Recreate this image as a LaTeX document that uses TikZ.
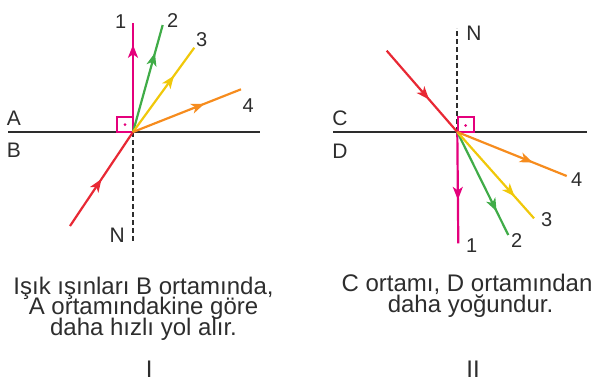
\documentclass[tikz,border=0pt]{standalone}
\usepackage{fontspec}
\setmainfont{Liberation Sans}
\usetikzlibrary{arrows.meta,decorations.markings}
\definecolor{cmag}{RGB}{228,0,124}
\definecolor{cgreen}{RGB}{64,172,72}
\definecolor{cyel}{RGB}{240,200,10}
\definecolor{corange}{RGB}{246,140,30}
\definecolor{cred}{RGB}{232,40,52}
\definecolor{cink}{RGB}{45,45,45}
\tikzset{
  ray/.style 2 args={draw=#1, line width=2.2pt, postaction={decorate},
    decoration={markings, mark=at position #2 with {\arrow[#1]{Stealth[length=13pt,width=10pt,inset=3.5pt]}}}},
  surface/.style={draw=cink, line width=2.2pt},
  normalline/.style={draw=cink, line width=2pt, dash pattern=on 5pt off 3pt},
  rightsq/.style={draw=cmag, line width=1.8pt},
  lbl/.style={text=cink, inner sep=0pt, font=\fontsize{20}{20}\selectfont},
  lett/.style={text=cink, inner sep=0pt, font=\fontsize{21}{21}\selectfont},
  txt/.style={text=cink, inner sep=0pt, anchor=base, font=\fontsize{24}{21}\selectfont}
}
\begin{document}
\begin{tikzpicture}[x=1pt,y=-1pt]
\useasboundingbox (0,0) rectangle (600,381);
% ---------- Panel I ----------
\coordinate (O1) at (133,132);
\coordinate (L1) at (8,132);
\coordinate (R1) at (260,132);
\coordinate (N1e) at (133,243);
\coordinate (i1) at (70,226);
\coordinate (a1) at (133,23);
\coordinate (a2) at (162.7,25);
\coordinate (a3) at (194.3,47.7);
\coordinate (a4) at (241,89.3);
\draw[surface] (L1) -- (R1);
\draw[normalline] (O1) -- (N1e);
\draw[rightsq] (117.3,116.7) rectangle (O1);
\fill[cmag] (125,124.5) circle (1.5pt);
\draw[ray={cred}{0.5}] (i1) -- (O1);
\draw[ray={cmag}{0.8}] (O1) -- (a1);
\draw[ray={cgreen}{0.74}] (O1) -- (a2);
\draw[ray={cyel}{0.67}] (O1) -- (a3);
\draw[ray={corange}{0.66}] (O1) -- (a4);
\node[lbl] (n1) at (120.7,21.5) {1};
\node[lbl] (n2) at (172.7,20.7) {2};
\node[lbl] (n3) at (201.7,39.3) {3};
\node[lbl] (n4) at (248.3,106) {4};
\node[lett] (lA) at (14,118.3) {A};
\node[lett] (lB) at (14,150) {B};
\node[lett] (lN1) at (117.3,235) {N};
\node[txt] (t1a) at (143.5,294) {Işık ışınları B ortamında,};
\node[txt] (t1b) at (143.5,314.5) {A ortamındakine göre};
\node[txt] (t1c) at (143.5,335.5) {daha hızlı yol alır.};
\node[txt] (r1) at (149.3,377.5) {I};
% ---------- Panel II ----------
\coordinate (O2) at (457.3,132);
\coordinate (L2) at (333,132);
\coordinate (R2) at (586.7,132);
\coordinate (N2e) at (457.3,28);
\coordinate (i2) at (386.7,50.7);
\coordinate (b1) at (458.3,243.3);
\coordinate (b2) at (508.3,235);
\coordinate (b3) at (534,218.3);
\coordinate (b4) at (566.7,176);
\draw[surface] (L2) -- (R2);
\draw[normalline] (O2) -- (N2e);
\draw[rightsq] (458.3,116.7) rectangle (474,132);
\fill[cmag] (465.7,125.5) circle (1.5pt);
\draw[ray={cred}{0.6}] (i2) -- (O2);
\draw[ray={cmag}{0.61}] (O2) -- (b1);
\draw[ray={cgreen}{0.77}] (O2) -- (b2);
\draw[ray={cyel}{0.75}] (O2) -- (b3);
\draw[ray={corange}{0.69}] (O2) -- (b4);
\node[lbl] (m1) at (471.7,246) {1};
\node[lbl] (m2) at (516.7,241) {2};
\node[lbl] (m3) at (546.7,220) {3};
\node[lbl] (m4) at (576.7,180) {4};
\node[lett] (lC) at (340,118.3) {C};
\node[lett] (lD) at (340,151.7) {D};
\node[lett] (lN2) at (474,33.3) {N};
\node[txt] (t2a) at (467,291.5) {C ortamı, D ortamından};
\node[txt] (t2b) at (470.5,312.5) {daha yoğundur.};
\node[txt] (r2) at (473,377.5) {II};
\end{tikzpicture}
\end{document}
